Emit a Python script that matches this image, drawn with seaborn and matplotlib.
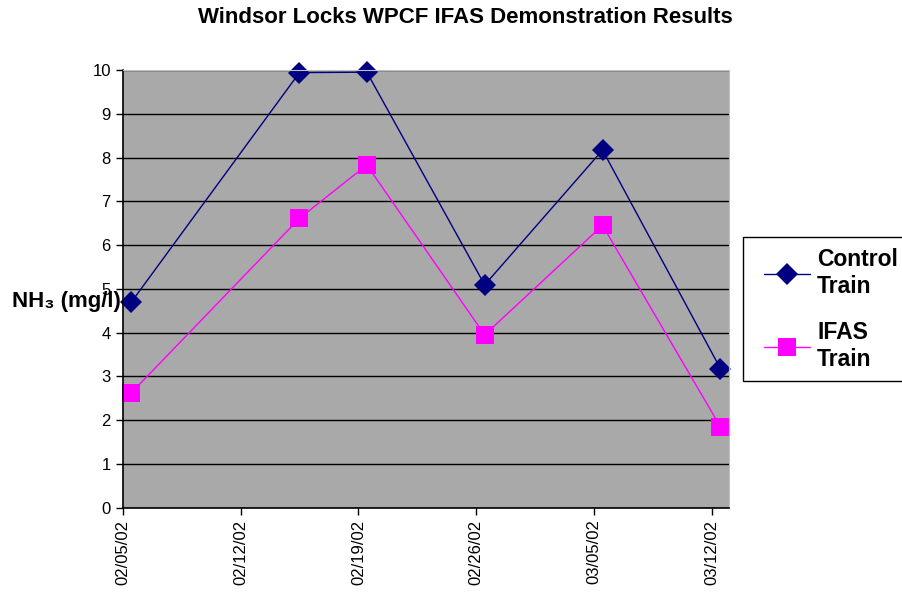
import matplotlib
matplotlib.use("Agg")
import matplotlib.pyplot as plt
import matplotlib.dates as mdates
import seaborn as sns
import numpy as np
import pandas as pd

# data
dates = ["2002-02-05", "2002-02-15", "2002-02-19", "2002-02-26", "2002-03-05", "2002-03-12"]
control_train = [4.69, 9.94, 9.95, 5.09, 8.17, 3.18]
ifas_train = [2.62, 6.61, 7.83, 3.95, 6.45, 1.85]
tick_dates = ["2002-02-05", "2002-02-12", "2002-02-19", "2002-02-26", "2002-03-05", "2002-03-12"]

sns.set_style("white")
plt.rcParams['font.family'] = ['Liberation Sans', 'DejaVu Sans']
plt.rcParams['text.color'] = 'black'
plt.rcParams['xtick.color'] = 'black'
plt.rcParams['ytick.color'] = 'black'

# Excel puts the points in the middle of each day
x = pd.to_datetime(dates) + pd.Timedelta(hours=12)
df = pd.DataFrame({"Date": list(x) * 2,
                   "NH3": control_train + ifas_train,
                   "Series": ["Control\nTrain"] * 6 + ["IFAS\nTrain"] * 6})

fig = plt.figure(figsize=(9.02, 5.93), dpi=100)
ax = fig.add_axes([0.136, 0.1438, 0.672, 0.7382])
ax.set_facecolor("#A9A9A9")

palette = {"Control\nTrain": "#000080", "IFAS\nTrain": "#FF00FF"}
markers = {"Control\nTrain": "D", "IFAS\nTrain": "s"}
sns.lineplot(data=df, x="Date", y="NH3", hue="Series", style="Series",
             palette=palette, markers=markers, dashes=False, linewidth=1,
             markersize=11, markeredgewidth=0, ax=ax, legend=False)
ax.lines[0].set_markersize(11.5)
ax.lines[1].set_markersize(12.5)
for ln in ax.lines:
    ln.set_clip_on(False)

ax.set_ylim(0, 10)
ax.set_yticks(range(0, 11))
ax.set_xlim(pd.Timestamp("2002-02-05"), pd.Timestamp("2002-03-13"))
ax.set_xticks(pd.to_datetime(tick_dates))
ax.xaxis.set_major_formatter(mdates.DateFormatter("%m/%d/%y"))
plt.setp(ax.get_xticklabels(), rotation=90)
ax.tick_params(axis="both", labelsize=12, length=5, width=1, color="black",
               direction="out", bottom=True, left=True)
ax.yaxis.grid(True, color="black", linewidth=1)
ax.set_axisbelow(True)
ax.set_xlabel("")
ax.set_ylabel("")
for s in ["left", "bottom"]:
    ax.spines[s].set_color("black")
    ax.spines[s].set_linewidth(1.2)
for s in ["top", "right"]:
    ax.spines[s].set_color("#C0C0C0")

fig.text(0.516, 0.97, "Windsor Locks WPCF IFAS Demonstration Results",
         ha="center", va="center", fontsize=16, fontweight="bold")
fig.text(12 / 902, 1 - 301 / 593, "NH\u2083 (mg/l)", ha="left", va="center",
         fontsize=16, fontweight="bold")

# legend box runs off the right edge like in the original
box = plt.Rectangle((743 / 902, 1 - 381 / 593), 170 / 902, 144 / 593,
                    transform=fig.transFigure, facecolor="white",
                    edgecolor="black", linewidth=1, clip_on=False)
fig.patches.append(box)

handles = [plt.Line2D([], [], color=palette[k], marker=markers[k], linewidth=1,
                      markersize=ax.lines[i].get_markersize(), markeredgewidth=0)
           for i, k in enumerate(palette)]
leg = fig.legend(handles, list(palette), loc="upper left",
                 bbox_to_anchor=(753 / 902, 1 - 237 / 593),
                 frameon=False, prop={"size": 16.5, "weight": "bold"},
                 handlelength=2.0, handletextpad=0.3, labelspacing=1.0,
                 borderpad=0.5, borderaxespad=0)

fig.savefig("out.png", dpi=100)
